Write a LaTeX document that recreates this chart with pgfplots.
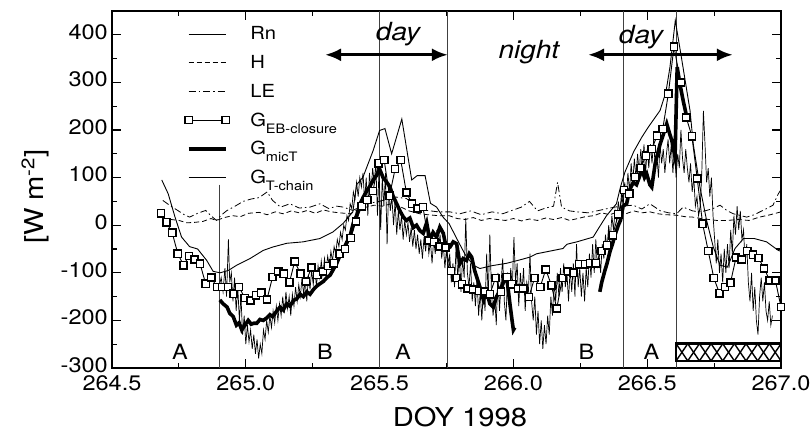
\documentclass[border=0pt]{standalone}
\usepackage{fontspec}
\setmainfont{TeX Gyre Heros}[FakeStretch=1.12]
\usepackage{pgfplots}
\pgfplotsset{compat=1.18}
\usetikzlibrary{arrows.meta}
\newcommand{\sub}[1]{\raisebox{-7bp}{\fontsize{13bp}{13bp}\selectfont #1}}
\begin{document}
\begin{tikzpicture}
\begin{axis}[
  name=main,
  scale only axis, width=669bp, height=357bp,
  xmin=264.5, xmax=267, ymin=-300, ymax=450,
  xtick={264.5,265.0,265.5,266.0,266.5,267.0},
  ytick={-300,-200,-100,0,100,200,300,400},
  minor x tick num=1, minor y tick num=1,
  tick align=inside, tick pos=both,
  major tick length=9bp, minor tick length=5bp,
  every tick/.style={black, line width=1.2bp},
  axis line style={line width=1.6bp},
  /pgf/number format/assume math mode=true,
  xticklabel style={/pgf/number format/.cd, fixed, fixed zerofill, precision=1, /tikz/.cd, yshift=-6bp, inner sep=1bp},
  yticklabel style={yshift=3bp, inner sep=1bp, xshift=-3bp},
  tick label style={font=\fontsize{21bp}{21bp}\selectfont},
  xlabel={DOY 1998}, ylabel={[W m\textsuperscript{-2}]},
  label style={font=\fontsize{26bp}{26bp}\selectfont},
  xlabel style={at={(axis description cs:0.52,0)}, yshift=-49bp, anchor=center},
  ylabel style={at={(axis description cs:-0.115,0.48)}, anchor=center},
  legend cell align=left,
  legend image code/.code={\draw[#1, mark repeat=1] plot coordinates {(0bp,0bp) (37bp,0bp)};},
  legend style={draw=none, fill=none, inner sep=0pt, font=\fontsize{18bp}{20bp}\selectfont,
    at={(axis description cs:0.109,0.962)}, anchor=north west, row sep=10bp, column sep=19bp},
]
% vertical lines
\draw[black!75, line width=0.9bp] (axis cs:264.9,85) -- (axis cs:264.9,-300);
\draw[black!75, line width=0.9bp] (axis cs:265.5,450) -- (axis cs:265.5,-300);
\draw[black!75, line width=0.9bp] (axis cs:265.755,450) -- (axis cs:265.755,-300);
\draw[black!75, line width=0.9bp] (axis cs:266.413,450) -- (axis cs:266.413,-300);
\draw[black!75, line width=0.9bp] (axis cs:266.608,450) -- (axis cs:266.608,-300);

% Rn
\addplot[forget plot, black, line width=0.9bp] coordinates {
(264.686,95) (264.71,66) (264.735,18) (264.76,-25) (264.79,-45) (264.82,-50) (264.854,-74) (264.878,-97) (264.904,-100) (264.935,-95) (264.966,-84) (265.016,-70) (265.065,-53) (265.1,-46) (265.153,-38) (265.214,-35) (265.277,-28) (265.326,-14) (265.364,4) (265.40,28) (265.414,85) (265.438,101) (265.476,157) (265.50,199) (265.52,203) (265.545,150) (265.583,223) (265.62,95) (265.64,104) (265.67,104) (265.69,46) (265.713,38) (265.737,17) (265.76,3) (265.79,-30) (265.82,-62) (265.85,-84) (265.875,-91) (265.92,-85) (265.975,-80) (266.03,-72) (266.062,-67) (266.087,-60) (266.185,-49) (266.2,-40) (266.237,-35) (266.298,-25) (266.32,-5) (266.348,20) (266.385,45) (266.40,80) (266.417,112) (266.45,155) (266.48,185) (266.504,206) (266.548,241) (266.57,280) (266.585,332) (266.605,430) (266.63,345) (266.66,241) (266.672,171) (266.697,80) (266.722,10) (266.747,-46) (266.772,-84) (266.80,-88) (266.828,-49) (266.86,-28) (266.90,-28) (266.946,-35) (266.99,-53) (267.0,-55)
};
% H
\addplot[forget plot, black, line width=0.8bp, dash pattern=on 5bp off 3bp] coordinates {
(264.69,8) (264.72,12) (264.75,10) (264.78,5) (264.81,6) (264.84,8) (264.87,14) (264.89,10) (264.92,16) (264.95,20) (264.98,18) (265.01,25) (265.05,27) (265.08,22) (265.11,28) (265.14,24) (265.17,30) (265.20,26) (265.23,31) (265.26,25) (265.29,32) (265.32,28) (265.35,26) (265.39,24) (265.42,33) (265.45,38) (265.48,42) (265.51,40) (265.55,46) (265.58,38) (265.61,30) (265.65,24) (265.68,22) (265.72,20) (265.76,20) (265.79,14) (265.82,12) (265.85,16) (265.88,10) (265.91,14) (265.94,12) (265.97,10) (266.00,14) (266.03,9) (266.06,13) (266.09,10) (266.12,15) (266.15,12) (266.18,16) (266.21,10) (266.24,14) (266.27,18) (266.30,20) (266.33,26) (266.36,22) (266.39,28) (266.42,24) (266.45,30) (266.48,26) (266.51,28) (266.54,24) (266.57,22) (266.61,21) (266.64,18) (266.67,17) (266.70,14) (266.73,12) (266.76,10) (266.80,10) (266.84,12) (266.88,10) (266.92,17) (266.96,22) (267.00,28)
};
% LE
\addplot[forget plot, black, line width=0.8bp, dash pattern=on 7bp off 3bp on 1.5bp off 3bp] coordinates {
(264.69,52) (264.72,40) (264.74,33) (264.77,22) (264.79,17) (264.82,25) (264.85,31) (264.87,20) (264.89,10) (264.91,22) (264.93,31) (264.96,40) (264.99,50) (265.02,55) (265.05,58) (265.08,70) (265.10,52) (265.13,38) (265.165,45) (265.20,36) (265.24,38) (265.277,45) (265.31,35) (265.34,40) (265.364,38) (265.40,31) (265.45,45) (265.50,50) (265.55,60) (265.60,56) (265.64,40) (265.676,31) (265.72,28) (265.763,28) (265.80,24) (265.84,30) (265.88,22) (265.92,28) (265.96,24) (266.00,32) (266.03,38) (266.06,50) (266.09,30) (266.12,36) (266.15,40) (266.165,90) (266.18,38) (266.21,30) (266.24,28) (266.28,26) (266.32,31) (266.36,36) (266.40,40) (266.448,42) (266.48,34) (266.51,45) (266.55,30) (266.58,26) (266.61,24) (266.634,38) (266.67,30) (266.70,28) (266.722,31) (266.75,36) (266.772,42) (266.80,30) (266.822,24) (266.85,20) (266.872,17) (266.90,22) (266.921,28) (266.95,36) (266.97,42) (266.99,66) (267.00,75)
};
% G T-chain
\addplot[forget plot, black, line width=0.7bp] coordinates {
(264.900,-130) (264.908,-110) (264.915,-140) (264.922,-90) (264.928,-150) (264.935,-30) (264.940,-120) (264.946,-100) (264.952,-160) (264.958,-110) (264.964,-180) (264.970,-130) (264.976,-200) (264.982,-150) (264.988,-230) (264.994,-190) (265.000,-250) (265.006,-210) (265.012,-245) (265.018,-220) (265.024,-260) (265.030,-230) (265.036,-270) (265.042,-240) (265.048,-280) (265.054,-250) (265.060,-270) (265.066,-220) (265.072,-240) (265.078,-200) (265.084,-225) (265.090,-190) (265.096,-215) (265.102,-180) (265.108,-205) (265.114,-170) (265.120,-200) (265.126,-165) (265.132,-190) (265.138,-150) (265.144,-185) (265.150,-140) (265.156,-175) (265.162,-150) (265.168,-190) (265.174,-145) (265.180,-170) (265.186,-130) (265.192,-160) (265.198,-125) (265.204,-150) (265.210,-110) (265.216,-145) (265.222,-115) (265.228,-160) (265.234,-105) (265.240,-135) (265.246,-95) (265.252,-125) (265.258,-90) (265.264,-130) (265.270,-85) (265.276,-110) (265.282,-75) (265.288,-105) (265.294,-70) (265.300,-95) (265.306,-65) (265.312,-85) (265.318,-55) (265.324,-75) (265.330,-45) (265.336,-60) (265.342,-30) (265.348,-45) (265.354,-15) (265.360,-30) (265.366,0) (265.372,-10) (265.378,20) (265.384,10) (265.390,45) (265.396,35) (265.402,70) (265.408,55) (265.414,90) (265.420,60) (265.426,100) (265.432,80) (265.438,110) (265.444,50) (265.450,100) (265.456,20) (265.462,110) (265.468,70) (265.474,120) (265.480,90) (265.486,130) (265.492,20) (265.498,120) (265.504,-10) (265.510,100) (265.516,40) (265.522,110) (265.528,-40) (265.534,80) (265.540,30) (265.546,60) (265.552,0) (265.558,50) (265.564,-20) (265.570,30) (265.576,-10) (265.582,20) (265.588,-30) (265.594,10) (265.600,-20) (265.606,5) (265.612,-35) (265.618,-5) (265.624,-45) (265.630,-10) (265.636,-50) (265.642,-20) (265.648,-60) (265.654,-30) (265.660,-70) (265.666,-25) (265.672,-55) (265.678,-15) (265.684,-60) (265.690,-35) (265.696,-80) (265.702,-30) (265.708,-60) (265.714,-10) (265.720,-50) (265.726,-20) (265.732,-70) (265.738,-40) (265.744,-90) (265.750,-50) (265.756,-100) (265.762,-60) (265.768,-120) (265.774,-80) (265.780,-130) (265.786,-40) (265.792,-110) (265.798,-60) (265.804,-140) (265.810,-70) (265.816,-110) (265.822,15) (265.828,-100) (265.834,-130) (265.840,-80) (265.846,-160) (265.852,-120) (265.858,-170) (265.864,-110) (265.870,-190) (265.876,-140) (265.882,-200) (265.888,-130) (265.894,-180) (265.900,-60) (265.906,-150) (265.912,-20) (265.918,-140) (265.924,-190) (265.930,-150) (265.936,-210) (265.942,-100) (265.948,-180) (265.954,-120) (265.960,-70) (265.966,-160) (265.972,-200) (265.978,-110) (265.984,-150) (265.990,-90) (265.996,-130) (266.002,-25) (266.008,-120) (266.014,-80) (266.020,-170) (266.026,-100) (266.032,-140) (266.038,-90) (266.044,-180) (266.050,-120) (266.056,-140) (266.062,-60) (266.068,-160) (266.074,-200) (266.080,-150) (266.086,-230) (266.092,-180) (266.098,-250) (266.104,-200) (266.110,-260) (266.116,-210) (266.122,-250) (266.128,-190) (266.134,-230) (266.140,-150) (266.146,-190) (266.152,-120) (266.158,-160) (266.164,-100) (266.170,-150) (266.176,-90) (266.182,-140) (266.188,-80) (266.194,-130) (266.200,-100) (266.206,-160) (266.212,-90) (266.218,-140) (266.224,-80) (266.230,-150) (266.236,-40) (266.242,-130) (266.248,-90) (266.254,-150) (266.260,-100) (266.266,-160) (266.272,-90) (266.278,-130) (266.284,-60) (266.290,-110) (266.296,-40) (266.302,-100) (266.308,-30) (266.314,-90) (266.320,-60) (266.326,-100) (266.332,-40) (266.338,-70) (266.344,-20) (266.350,-50) (266.356,0) (266.362,-30) (266.368,20) (266.374,-10) (266.380,30) (266.386,10) (266.392,50) (266.398,20) (266.404,70) (266.410,40) (266.416,90) (266.422,60) (266.428,110) (266.434,70) (266.440,130) (266.446,90) (266.452,140) (266.458,100) (266.464,150) (266.470,110) (266.476,160) (266.482,120) (266.488,170) (266.494,110) (266.500,160) (266.506,120) (266.512,170) (266.518,130) (266.524,180) (266.530,120) (266.536,150) (266.542,100) (266.548,170) (266.554,130) (266.560,160) (266.566,110) (266.572,150) (266.578,180) (266.584,130) (266.590,170) (266.596,110) (266.602,160) (266.608,100) (266.614,150) (266.620,120) (266.626,200) (266.632,140) (266.638,110) (266.644,160) (266.650,120) (266.656,90) (266.662,130) (266.668,70) (266.674,100) (266.680,40) (266.686,60) (266.692,20) (266.698,40) (266.704,110) (266.710,240) (266.716,170) (266.722,90) (266.728,120) (266.734,60) (266.740,100) (266.746,20) (266.752,-30) (266.758,-80) (266.764,-30) (266.770,-100) (266.776,-60) (266.782,-120) (266.788,-50) (266.794,-100) (266.800,-40) (266.806,-90) (266.812,-10) (266.818,-60) (266.824,20) (266.830,-20) (266.836,40) (266.842,-10) (266.848,30) (266.854,-30) (266.860,-10) (266.866,-80) (266.872,-40) (266.878,-120) (266.884,-160) (266.890,-100) (266.896,-180) (266.902,-130) (266.908,-200) (266.914,-230) (266.920,-150) (266.926,-110) (266.932,-160) (266.938,-120) (266.944,-180) (266.950,-200) (266.956,-160) (266.962,-210) (266.968,-190)
};
% G micT (thick)
\addplot[forget plot, black, line width=3.6bp] coordinates {
(264.903,-157) (264.915,-165) (264.93,-172) (264.94,-185) (264.953,-192) (264.965,-210) (264.975,-205) (264.985,-220) (264.997,-210) (265.009,-200) (265.02,-208) (265.03,-206) (265.041,-206) (265.053,-198) (265.065,-200) (265.078,-195) (265.09,-188) (265.10,-192) (265.116,-180) (265.128,-172) (265.14,-178) (265.153,-165) (265.165,-170) (265.178,-158) (265.19,-155) (265.203,-145) (265.215,-150) (265.228,-140) (265.24,-145) (265.253,-135) (265.265,-128) (265.277,-123) (265.29,-118) (265.303,-110) (265.315,-105) (265.328,-92) (265.34,-80) (265.353,-62) (265.365,-50) (265.378,-35) (265.39,-22) (265.402,5) (265.414,20) (265.427,45) (265.44,60) (265.452,72) (265.464,82) (265.476,95) (265.489,105) (265.50,118) (265.513,100) (265.527,90) (265.539,80) (265.551,60) (265.564,45) (265.576,30) (265.589,17) (265.60,10) (265.613,15) (265.626,-5) (265.638,0) (265.65,-11) (265.663,-17) (265.676,5) (265.688,-32) (265.70,-15) (265.713,-25) (265.725,-4) (265.738,-17) (265.75,-50) (265.763,-46) (265.775,-35) (265.788,-39) (265.80,-81) (265.812,-70) (265.825,-74) (265.835,-60) (265.844,-67) (265.855,-95) (265.863,-109) (265.875,-130) (265.888,-157) (265.90,-140) (265.912,-165) (265.925,-172) (265.937,-150) (265.95,-137) (265.962,-120) (265.975,-109) (265.987,-165) (265.995,-200) (266.00,-220) (266.005,-215)
};
\addplot[forget plot, black, line width=3.6bp] coordinates {
(266.323,-140) (266.33,-120) (266.342,-95) (266.35,-80) (266.361,-55) (266.37,-40) (266.38,-20) (266.392,0) (266.40,10) (266.41,40) (266.423,45) (266.435,75) (266.448,90) (266.46,85) (266.473,105) (266.479,120) (266.49,100) (266.498,108) (266.51,85) (266.517,80) (266.53,130) (266.548,170) (266.56,190) (266.573,213) (266.585,190) (266.592,178) (266.604,143) (266.612,332) (266.622,297) (266.635,260) (266.648,227)
};
% G EB-closure
\addplot[forget plot, black, line width=0.9bp, mark=square*, mark size=3.6bp, mark options={fill=white, draw=black, line width=1.5bp, solid}] coordinates {
(264.683,25) (264.704,6) (264.725,-16) (264.746,-60) (264.767,-84) (264.788,-65) (264.808,-72) (264.829,-81) (264.85,-123) (264.871,-110) (264.892,-130) (264.912,-130) (264.933,-130) (264.954,-144) (264.975,-130) (264.996,-153) (265.017,-158) (265.038,-147) (265.058,-142) (265.079,-156) (265.1,-109) (265.121,-97) (265.142,-102) (265.163,-120) (265.183,-76) (265.204,-102) (265.225,-118) (265.246,-89) (265.267,-104) (265.288,-97) (265.308,-86) (265.329,-80) (265.35,-60) (265.371,-50) (265.392,-27) (265.412,8) (265.433,40) (265.454,53) (265.475,72) (265.496,130) (265.517,137) (265.537,62) (265.558,118) (265.579,137) (265.6,69) (265.621,45) (265.642,35) (265.662,38) (265.683,-32) (265.704,-35) (265.725,-45) (265.746,-47) (265.767,-96) (265.787,-111) (265.808,-124) (265.829,-133) (265.85,-135) (265.871,-138) (265.892,-139) (265.912,-145) (265.933,-111) (265.954,-140) (265.975,-109) (265.996,-124) (266.017,-133) (266.037,-133) (266.058,-151) (266.079,-111) (266.1,-130) (266.121,-93) (266.142,-126) (266.162,-175) (266.183,-111) (266.204,-97) (266.225,-100) (266.246,-82) (266.267,-82) (266.287,-80) (266.308,-80) (266.329,-54) (266.35,-42) (266.371,-21) (266.392,23) (266.413,74) (266.433,66) (266.454,101) (266.475,120) (266.496,146) (266.517,160) (266.537,188) (266.558,202) (266.579,276) (266.6,375) (266.625,300) (266.646,226) (266.667,187) (266.687,98) (266.707,3) (266.728,-54) (266.749,-111) (266.77,-143) (266.791,-130) (266.811,-121) (266.832,-68) (266.853,-72) (266.874,-54) (266.895,-62) (266.916,-69) (266.937,-91) (266.958,-116) (266.979,-116) (267.0,-172)
};

% legend
\addlegendimage{black, line width=0.9bp}
\addlegendentry{Rn}
\addlegendimage{black, line width=0.8bp, dash pattern=on 5bp off 3bp}
\addlegendentry{H}
\addlegendimage{black, line width=0.8bp, dash pattern=on 7bp off 3bp on 1.5bp off 3bp}
\addlegendentry{LE}
\addlegendimage{black, line width=0.9bp, mark=square*, mark size=3.6bp, mark options={fill=white, draw=black, line width=1.5bp, solid}}
\addlegendentry{G\sub{EB-closure}}
\addlegendimage{black, line width=3.6bp}
\addlegendentry{G\sub{micT}}
\addlegendimage{black, line width=0.9bp}
\addlegendentry{G\sub{T-chain}}

% arrows and texts
\draw[line width=3bp, {Latex[length=16bp,width=13bp]}-{Latex[length=16bp,width=13bp]}] (axis cs:265.296,358) -- (axis cs:265.755,358);
\draw[line width=3bp, {Latex[length=16bp,width=13bp]}-{Latex[length=16bp,width=13bp]}] (axis cs:266.279,358) -- (axis cs:266.82,358);
\node[anchor=base, font=\fontsize{25bp}{25bp}\selectfont\itshape] at (axis cs:265.569,387) {day};
\node[anchor=base, font=\fontsize{25bp}{25bp}\selectfont\itshape] at (axis cs:266.058,350) {night};
\node[anchor=base, font=\fontsize{25bp}{25bp}\selectfont\itshape] at (axis cs:266.477,381) {day};

% A / B labels
\node[font=\fontsize{21bp}{21bp}\selectfont] at (axis cs:264.754,-266) {A};
\node[font=\fontsize{21bp}{21bp}\selectfont] at (axis cs:265.296,-266) {B};
\node[font=\fontsize{21bp}{21bp}\selectfont] at (axis cs:265.587,-266) {A};
\node[font=\fontsize{21bp}{21bp}\selectfont] at (axis cs:266.273,-266) {B};
\node[font=\fontsize{21bp}{21bp}\selectfont] at (axis cs:266.516,-266) {A};

% hatched box
\pgfplotsinvokeforeach{0,...,8}{
  \draw[line width=1.4bp] (axis cs:{266.608+0.04356*#1},-285) -- (axis cs:{266.608+0.04356*(#1+1)},-249);
  \draw[line width=1.4bp] (axis cs:{266.608+0.04356*#1},-249) -- (axis cs:{266.608+0.04356*(#1+1)},-285);
}
\draw[line width=2.6bp] (axis cs:266.608,-285) rectangle (axis cs:267,-249);
\end{axis}
\pgfresetboundingbox
\path ([shift={(-112bp,-68bp)}]main.south west) rectangle ++(812bp,436bp);
\end{tikzpicture}
\end{document}
